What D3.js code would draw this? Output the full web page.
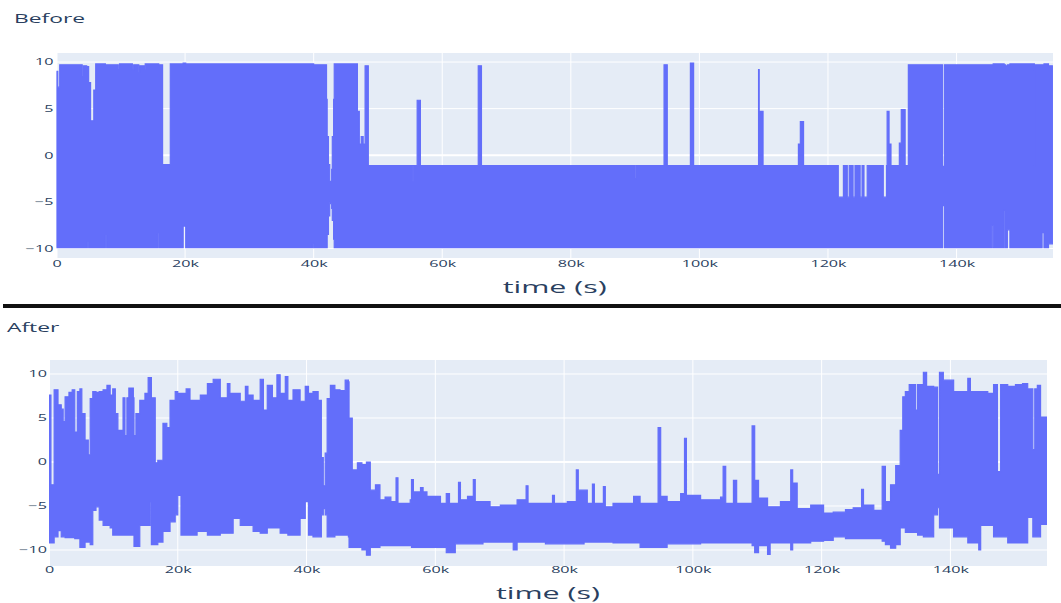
<!DOCTYPE html>
<html>
<head>
<meta charset="utf-8">
<script src="https://cdn.jsdelivr.net/npm/d3@7"></script>
<style>
body { margin: 0; background: #fff; }
svg { display: block; font-family: "Open Sans", sans-serif; }
</style>
</head>
<body>
<div id="chart"></div>
<script>
// time in thousands of seconds (envelope of the signal)
var beforeTimeK = [
  0, 0.2, 0.5, 4.0, 4.2, 4.7, 4.8, 5.0, 5.3, 5.8,
  6.1, 7.6, 7.8, 9.6, 9.8, 11.8, 12.0, 12.8, 12.9, 13.7,
  13.8, 15.7, 15.9, 16.5, 17.7, 19.7, 20.1, 39.8, 40.0, 42.0,
  42.1, 42.3, 42.5, 42.6, 42.8, 42.9, 43.1, 43.2, 46.8, 47.1,
  47.4, 47.7, 48.0, 48.5, 55.4, 55.5, 56.1, 56.6, 65.6, 66.1,
  90.0, 90.2, 94.5, 95.0, 98.6, 99.1, 109.2, 109.3, 109.9, 115.4,
  115.7, 116.2, 121.6, 122.4, 123.0, 123.3, 123.9, 124.2, 125.0, 125.3,
  125.6, 126.1, 128.6, 129.1, 129.2, 129.5, 129.8, 131.1, 131.4, 132.0,
  132.5, 137.8, 138.1, 145.5, 145.7, 147.4, 147.6, 147.9, 148.3, 152.1,
  152.2, 153.3, 153.6, 154.3, 154.9
];
var beforeHigh = [
  9.0, 7.3, 9.7, 8.4, 9.6, 9.5, 9.5, 7.8, 3.7, 7.0,
  9.8, 9.7, 9.7, 9.2, 9.8, 9.1, 9.7, 8.9, 9.6, 9.2,
  9.8, 9.8, 9.7, -1.0, 9.8, 9.9, 9.8, 9.8, 9.7, 6.0,
  2.0, -1.0, -2.8, -2.8, -1.5, 2.0, 6.0, 9.8, 4.7, 1.2,
  2.0, 1.2, 9.6, -1.1, -2.8, -1.1, 5.9, -1.1, 9.6, -1.1,
  -2.5, -1.1, 9.7, -1.1, 9.9, -1.1, 9.2, 4.7, -1.1, 1.2,
  3.6, -1.1, -4.5, -1.1, -4.5, -1.1, -4.5, -1.1, -4.5, -1.1,
  -4.5, -1.1, -4.5, -1.1, 4.7, 1.2, -1.1, 1.3, 4.9, -1.1,
  9.7, -1.2, 9.7, 9.7, 9.8, 9.7, 9.6, 9.7, 9.8, -1.2,
  9.7, 9.7, 9.8, 9.6, 9.6
];
var beforeLow = [
  -9.9, -9.9, -9.9, -9.9, -9.9, -9.9, -9.2, -9.9, -9.9, -9.9,
  -9.9, -8.5, -9.9, -9.9, -9.9, -9.9, -9.9, -9.9, -9.9, -9.9,
  -9.9, -8.3, -9.9, -9.9, -9.9, -7.6, -9.9, -9.4, -9.9, -9.9,
  -8.5, -6.5, -5.0, -5.2, -5.7, -7.0, -9.0, -9.9, -9.9, -9.9,
  -9.9, -9.9, -9.9, -9.9, -9.9, -9.9, -9.9, -9.9, -9.9, -9.9,
  -9.9, -9.9, -9.9, -9.9, -9.9, -9.9, -9.9, -9.9, -9.9, -9.9,
  -9.9, -9.9, -9.9, -9.9, -9.9, -9.9, -9.9, -9.9, -9.9, -9.9,
  -9.9, -9.9, -9.9, -9.9, -9.9, -9.9, -9.9, -9.9, -9.9, -9.9,
  -9.9, -5.4, -9.9, -7.5, -9.9, -5.9, -9.9, -8.0, -9.9, -9.9,
  -9.9, -8.3, -9.9, -9.5, -9.5
];

var afterTimeK = [
  0, 0.3, 0.8, 1.4, 1.9, 2.2, 2.5, 3.1, 3.6, 4.0,
  4.4, 4.8, 5.1, 5.6, 6.1, 6.4, 6.8, 7.3, 7.8, 8.4,
  9.0, 9.5, 9.9, 10.3, 10.7, 11.5, 11.8, 12.1, 12.4, 13.1,
  13.2, 13.5, 14.1, 14.9, 15.4, 15.7, 15.9, 16.5, 16.9, 17.7,
  18.3, 18.8, 19.6, 20.0, 20.5, 21.3, 21.9, 23.0, 23.5, 24.6,
  25.5, 26.6, 27.7, 28.1, 28.6, 29.7, 30.5, 30.9, 31.7, 32.8,
  33.3, 33.9, 34.7, 35.4, 35.9, 36.7, 37.1, 37.9, 39.0, 39.8,
  40.3, 41.0, 41.8, 42.3, 42.6, 42.9, 43.2, 43.7, 44.4, 45.2,
  46.0, 46.5, 46.6, 47.1, 47.9, 48.6, 49.3, 49.9, 50.7, 51.4,
  52.2, 53.1, 53.9, 54.2, 55.2, 56.1, 56.3, 56.6, 57.7, 58.1,
  58.7, 59.8, 60.8, 61.7, 62.2, 63.1, 63.6, 63.9, 65.0, 65.9,
  66.2, 67.4, 68.5, 70.1, 71.3, 72.1, 72.7, 74.1, 74.4, 75.5,
  77.1, 78.2, 78.5, 79.6, 80.5, 81.9, 82.2, 83.1, 83.6, 84.4,
  84.7, 85.6, 86.1, 86.4, 87.6, 89.5, 90.8, 91.8, 93.4, 94.6,
  95.0, 96.0, 97.6, 98.1, 98.7, 99.0, 100.4, 101.2, 103.0, 104.3,
  104.7, 105.1, 106.3, 106.8, 108.2, 109.2, 109.6, 110.2, 111.6, 112.0,
  113.6, 115.2, 115.5, 116.2, 118.3, 120.3, 121.8, 123.7, 124.9, 126.2,
  126.5, 128.1, 129.4, 129.9, 130.7, 131.5, 132.2, 132.6, 133.0, 133.6,
  134.6, 134.9, 135.8, 136.3, 137.4, 138.0, 138.3, 138.9, 140.5, 142.7,
  143.1, 144.4, 144.7, 145.8, 146.7, 147.3, 147.8, 148.9, 150.1, 151.2,
  152.0, 152.8, 153.1, 153.5, 154.0, 155.1
];
var afterHigh = [
  7.6, -2.6, 8.2, 6.5, 6.0, 4.6, 7.4, 7.9, 8.2, 3.4,
  8.0, 8.3, 5.5, 2.5, 0.8, 7.2, 8.0, 7.9, 8.0, 8.2,
  8.7, 7.6, 8.3, 5.5, 3.6, 7.3, 3.0, 7.3, 8.4, 7.3,
  3.0, 5.5, 7.0, 7.8, 9.6, 9.6, 7.3, -0.1, 0.2, 4.4,
  3.9, 7.0, 8.0, 7.8, 7.8, 8.3, 7.0, 7.0, 7.6, 8.9,
  9.4, 7.3, 8.9, 7.8, 7.8, 6.9, 8.6, 7.6, 7.0, 9.4,
  5.9, 8.7, 7.3, 9.9, 7.8, 9.7, 7.0, 8.2, 6.9, 8.6,
  7.8, 8.0, 7.0, 0.5, -2.7, 1.0, 7.2, 8.7, 8.2, 8.1,
  9.3, 9.1, 5.0, -0.9, -0.1, -0.3, 0.0, -3.2, -2.6, -4.3,
  -4.0, -4.5, -1.8, -4.7, -4.7, -4.3, -2.0, -3.4, -2.9, -3.4,
  -3.9, -3.9, -4.7, -3.6, -4.7, -4.7, -2.3, -4.3, -3.9, -2.0,
  -4.5, -4.5, -5.1, -4.9, -4.9, -4.9, -4.3, -2.7, -4.7, -4.7,
  -4.7, -3.8, -4.7, -4.7, -4.5, -0.9, -3.2, -3.2, -4.7, -2.5,
  -4.7, -4.7, -2.8, -5.1, -4.7, -4.7, -3.9, -4.7, -4.7, 3.9,
  -3.9, -4.5, -4.5, -3.6, 2.7, -3.8, -3.8, -4.3, -4.3, -4.0,
  -0.5, -4.7, -2.1, -4.7, -4.7, 4.1, -2.1, -4.1, -5.1, -5.1,
  -4.5, -0.9, -2.4, -5.3, -4.9, -5.8, -5.7, -5.4, -5.2, -3.1,
  -4.9, -5.5, -0.5, -4.5, -2.6, -0.4, 3.6, 7.4, 8.0, 8.8,
  5.9, 8.8, 10.2, 8.6, 8.5, -1.4, 10.2, 9.3, 8.0, 9.5,
  8.0, 8.0, 8.0, 7.8, 8.8, -1.1, 8.8, 8.6, 8.8, 8.9,
  8.3, 1.4, 8.3, 8.7, 5.1, 5.1
];
var afterLow = [
  -9.2, -9.2, -8.5, -7.8, -8.5, -8.5, -8.6, -8.6, -8.6, -8.7,
  -8.7, -9.7, -9.7, -9.1, -9.1, -9.4, -5.5, -5.1, -6.6, -7.2,
  -7.2, -7.5, -8.3, -8.3, -8.3, -8.3, -8.3, -8.3, -8.3, -8.3,
  -9.6, -9.6, -7.2, -7.2, -7.2, -4.5, -9.4, -9.4, -9.1, -7.9,
  -7.9, -6.8, -6.0, -3.8, -8.3, -8.3, -8.3, -7.9, -7.9, -8.3,
  -8.3, -8.1, -8.1, -8.1, -6.4, -7.2, -7.2, -7.2, -7.9, -8.1,
  -8.1, -7.5, -7.5, -7.5, -8.1, -8.1, -8.3, -8.3, -6.4, -4.5,
  -8.3, -8.5, -8.5, -6.0, -5.3, -6.0, -8.5, -8.5, -8.3, -8.3,
  -8.3, -8.5, -9.7, -9.7, -9.7, -10.0, -10.6, -9.7, -9.7, -9.5,
  -9.5, -9.5, -9.5, -9.5, -9.5, -9.5, -9.7, -9.7, -9.7, -9.7,
  -9.7, -9.7, -9.7, -10.3, -10.3, -9.3, -9.3, -9.3, -9.3, -9.3,
  -9.3, -9.1, -9.1, -9.1, -9.1, -10.0, -9.1, -9.1, -9.1, -9.1,
  -9.3, -9.3, -9.3, -9.3, -9.3, -9.3, -9.3, -9.1, -9.1, -9.1,
  -9.1, -9.1, -9.1, -9.1, -9.2, -9.2, -9.2, -9.7, -9.7, -9.7,
  -9.7, -9.3, -9.3, -9.3, -9.3, -9.3, -9.3, -9.2, -9.2, -9.2,
  -9.2, -9.2, -9.2, -9.2, -9.2, -9.5, -10.3, -9.5, -10.5, -9.2,
  -9.2, -10.0, -9.2, -9.2, -9.0, -8.9, -8.5, -8.7, -8.7, -8.7,
  -8.7, -8.7, -9.0, -9.4, -9.8, -9.4, -7.5, -7.5, -8.0, -8.0,
  -8.0, -8.3, -8.5, -8.5, -6.0, -5.2, -7.5, -7.5, -8.5, -9.2,
  -9.2, -10.0, -7.2, -7.2, -8.5, -8.5, -8.5, -9.2, -9.2, -9.2,
  -6.3, -8.5, -8.5, -8.5, -7.1, -7.1
];

var xTicks = [0, 20000, 40000, 60000, 80000, 100000, 120000, 140000];
var yTicks = [-10, -5, 0, 5, 10];
var xMax = 155000;

var lineColor = "#636efa";
var textColor = "#2a3f5f";
var stretchK = 1.9; // the picture is stretched sideways, so is its text

var svg = d3.select("#chart").append("svg").attr("width", 1061).attr("height", 603);

function stretch(sel, k) {
  sel.each(function() {
    var w = this.getComputedTextLength();
    d3.select(this).attr("textLength", w * k).attr("lengthAdjust", "spacingAndGlyphs");
  });
}

function drawPanel(p) {
  var x = d3.scaleLinear().domain([0, xMax]).range([p.left, p.right]);
  var y = d3.scaleLinear().domain(p.yDomain).range([p.bottom, p.top]);
  var g = svg.append("g");

  g.append("rect").attr("x", p.left).attr("y", p.top)
    .attr("width", p.right - p.left).attr("height", p.bottom - p.top)
    .attr("fill", "#e5ecf6");

  g.selectAll(".vgrid").data(xTicks).enter().append("line")
    .attr("x1", d => x(d)).attr("x2", d => x(d))
    .attr("y1", p.top).attr("y2", p.bottom)
    .attr("stroke", "#fff").attr("stroke-width", d => d === 0 ? 2 : 1);
  g.selectAll(".hgrid").data(yTicks).enter().append("line")
    .attr("x1", p.left).attr("x2", p.right)
    .attr("y1", d => y(d)).attr("y2", d => y(d))
    .attr("stroke", "#fff").attr("stroke-width", d => d === 0 ? 2 : 1);

  svg.append("clipPath").attr("id", "clip-" + p.name).append("rect")
    .attr("x", p.left).attr("y", p.top)
    .attr("width", p.right - p.left).attr("height", p.bottom - p.top);

  var rows = p.times.map((t, i) => ({ t: t * 1000, hi: p.hi[i], lo: p.lo[i] }));
  var area = d3.area().curve(d3.curveStepAfter)
    .x(d => x(d.t)).y0(d => y(d.lo)).y1(d => y(d.hi));
  g.append("path").datum(rows)
    .attr("clip-path", "url(#clip-" + p.name + ")")
    .attr("d", area)
    .attr("fill", lineColor).attr("stroke", lineColor).attr("stroke-width", 1.2);

  var xa = g.append("g").attr("transform", "translate(0," + p.bottom + ")")
    .call(d3.axisBottom(x).tickValues(xTicks).tickSize(0).tickPadding(p.xPad).tickFormat(d3.format("~s")));
  var ya = g.append("g").attr("transform", "translate(" + p.left + ",0)")
    .call(d3.axisLeft(y).tickValues(yTicks).tickSize(0).tickPadding(p.yPad));
  [xa, ya].forEach(a => {
    a.select(".domain").remove();
    a.selectAll("text").attr("fill", textColor).style("font-size", "8.5px")
      .style("font-family", '"Open Sans", sans-serif');
    stretch(a.selectAll("text"), stretchK);
  });

  var t1 = svg.append("text").attr("x", p.titleX).attr("y", p.titleY)
    .attr("fill", textColor).style("font-size", "12px").text(p.title);
  stretch(t1, stretchK);

  var t2 = svg.append("text").attr("x", (p.left + p.right) / 2).attr("y", p.axisTitleY)
    .attr("text-anchor", "middle").attr("fill", textColor).style("font-size", "16px")
    .text("time (s)");
  stretch(t2, stretchK);
}

drawPanel({
  name: "before", title: "Before", titleX: 14, titleY: 23,
  left: 56.5, right: 1053, top: 53, bottom: 258,
  yDomain: [-11.02, 10.97], xPad: 3.3, yPad: 3, axisTitleY: 293,
  times: beforeTimeK, hi: beforeHigh, lo: beforeLow
});

// black separator bar between the two panels
svg.append("rect").attr("x", 3).attr("y", 304).attr("width", 1058).attr("height", 4).attr("fill", "#111");

drawPanel({
  name: "after", title: "After", titleX: 7, titleY: 331.5,
  left: 49, right: 1047, top: 360, bottom: 566,
  yDomain: [-11.82, 11.59], xPad: 1.3, yPad: 2, axisTitleY: 599,
  times: afterTimeK, hi: afterHigh, lo: afterLow
});
</script>
</body>
</html>
